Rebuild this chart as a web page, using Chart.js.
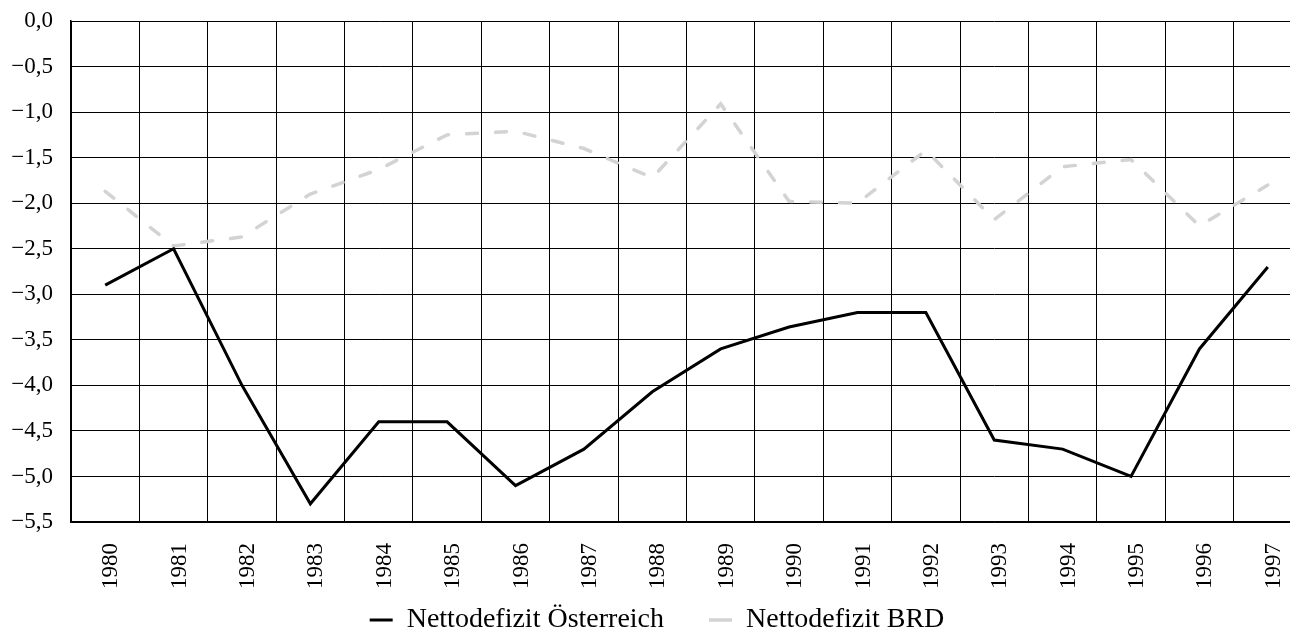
<!DOCTYPE html>
<html lang="de">
<head>
<meta charset="utf-8">
<title>Nettodefizit Österreich und BRD</title>
<script src="https://cdn.jsdelivr.net/npm/chart.js@4.4.1/dist/chart.umd.min.js"></script>
<style>
  html, body { margin: 0; padding: 0; overflow: hidden; background: #fff; }
  #wrap { width: 1310px; height: 632px; }
</style>
</head>
<body>
<div id="wrap"><canvas id="chartCanvas" width="1310" height="632"></canvas></div>
<script>
const years = ['1980', '1981', '1982', '1983', '1984', '1985', '1986', '1987', '1988',
  '1989', '1990', '1991', '1992', '1993', '1994', '1995', '1996', '1997'];

const defizitOesterreich = [-2.9, -2.5, -4.0, -5.3, -4.4, -4.4, -5.1, -4.7, -4.07,
  -3.6, -3.36, -3.2, -3.2, -4.6, -4.7, -5.0, -3.6, -2.7];

const defizitBRD = [-1.87, -2.47, -2.37, -1.9, -1.63, -1.25, -1.21, -1.4, -1.72,
  -0.91, -1.98, -2.0, -1.42, -2.18, -1.6, -1.52, -2.25, -1.8];

const yMin = -5.5;
const yMax = 0;
const yStep = 0.5;

const fontFamily = "'Liberation Serif', 'Times New Roman', serif";

// 0,0 / −0,5 ... deutsches Komma
function formatTick(value) {
  const text = Math.abs(value).toFixed(1).replace('.', ',');
  return value < -0.001 ? '\u2212' + text : text;
}

// Legende nach oben ziehen (das grosse padding trennt die Eintraege, schiebt sie aber nach unten)
const legendLift = {
  id: 'legendLift',
  afterLayout(chart) {
    chart.legend.top -= 29;
  },
};

function initializeDefizitChart() {
  const ctx = document.getElementById('chartCanvas').getContext('2d');
  new Chart(ctx, {
    type: 'line',
    data: {
      labels: years,
      datasets: [
        {
          label: 'Nettodefizit Österreich',
          data: defizitOesterreich,
          borderColor: '#000',
          borderWidth: 3,
          pointRadius: 0,
          tension: 0,
          fill: false,
        },
        {
          label: 'Nettodefizit BRD',
          data: defizitBRD,
          borderColor: '#d3d3d3',
          borderWidth: 3.5,
          borderDash: [11, 18],
          borderCapStyle: 'round',
          pointRadius: 0,
          tension: 0,
          fill: false,
        },
      ],
    },
    options: {
      responsive: false,
      animation: false,
      layout: {
        padding: { left: 12, top: 0, right: 8, bottom: 0 },
      },
      plugins: {
        tooltip: { enabled: false },
        legend: {
          position: 'bottom',
          maxHeight: 42,
          labels: {
            usePointStyle: true,
            pointStyle: 'line',
            pointStyleWidth: 23,
            padding: 45,
            color: '#000',
            font: { family: fontFamily, size: 28 },
          },
        },
      },
      scales: {
        x: {
          type: 'category',
          offset: true,
          grid: {
            color: '#000',
            lineWidth: 1,
            drawTicks: false,
            offset: true,
          },
          border: { color: '#000', width: 1.5 },
          ticks: {
            autoSkip: false,
            minRotation: 90,
            maxRotation: 90,
            padding: 21,
            labelOffset: 6,
            color: '#000',
            font: { family: fontFamily, size: 23 },
          },
          afterFit(scale) {
            scale.height = 68;
            scale.paddingLeft = 0;
            scale.paddingRight = 0;
          },
        },
        y: {
          min: yMin,
          max: yMax,
          grid: {
            color: '#000',
            lineWidth: 1,
            drawTicks: false,
          },
          border: { color: '#000', width: 1.5 },
          ticks: {
            stepSize: yStep,
            padding: 18,
            color: '#000',
            font: { family: fontFamily, size: 23 },
            callback: (value) => formatTick(value),
          },
          afterFit(scale) {
            scale.width = 59;
            scale.paddingTop = 21;
            scale.paddingBottom = 0;
          },
        },
      },
    },
    plugins: [legendLift],
  });
}

document.addEventListener('DOMContentLoaded', function () {
  initializeDefizitChart();
});
</script>
</body>
</html>
